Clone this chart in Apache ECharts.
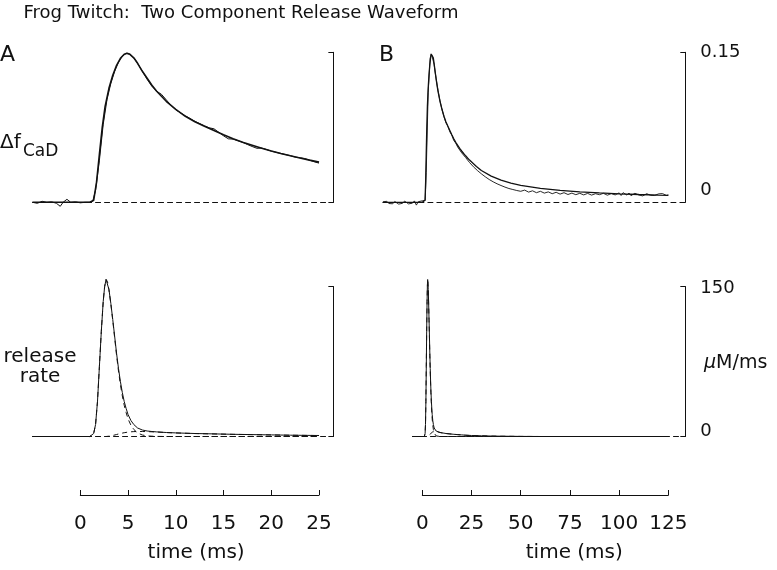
<!DOCTYPE html>
<html><head><meta charset="utf-8">
<script src="https://cdn.jsdelivr.net/npm/echarts@6/dist/echarts.min.js"></script>
<style>html,body{margin:0;padding:0;background:#fff}#c{width:777px;height:570px}</style>
</head><body><div id="c"></div>
<script>
// ---------- DATA ----------
// Fitted fluorescence change (time ms, ΔfCaD)
const fitCaD = [[-20,0],[-5,0],[0,0],[1.0,0],[1.4,0.002],[1.7,0.02],[2.0,0.048],[2.3,0.075],[2.6,0.096],[3.0,0.114],[3.4,0.127],[3.8,0.137],[4.2,0.144],[4.6,0.148],[4.9,0.149],[5.2,0.148],[5.6,0.1445],[6.0,0.139],[6.5,0.131],[7.0,0.124],[7.5,0.117],[8,0.111],[8.5,0.106],[9,0.101],[10,0.093],[11,0.086],[12,0.0805],[13,0.0760],[14,0.0718],[15,0.0675],[16,0.0635],[17,0.0600],[18,0.0570],[19,0.0540],[20,0.0513],[21,0.0488],[22,0.0465],[23,0.0443],[24,0.0422],[25,0.0402],[27.5,0.0358],[30,0.0318],[35,0.0262],[40,0.0222],[45,0.0192],[50,0.0170],[60,0.0140],[70,0.0119],[80,0.0105],[90,0.0094],[100,0.0085],[110,0.0078],[120,0.0072],[125,0.0070]];
// Measured ΔfCaD, panel A (0–25 ms view)
const measA = [[-5,0],[-4.5,-0.001],[-4,0.001],[-3.5,0],[-3,0.0005],[-2.5,-0.001],[-2.1,-0.004],[-1.8,0],[-1.4,0.003],[-1.0,0],[-0.5,0.0005],[0,-0.0005],[0.5,0],[1.0,0],[1.3,0.001],[1.6,0.012],[2.0,0.042],[2.4,0.078],[2.8,0.103],[3.2,0.119],[3.6,0.131],[4.0,0.140],[4.4,0.146],[4.8,0.149],[5.2,0.148],[5.6,0.1445],[6.0,0.139],[6.5,0.131],[7,0.123],[7.5,0.116],[8,0.111],[8.5,0.108],[9,0.1025],[9.5,0.097],[10,0.0925],[11,0.0865],[12,0.081],[13,0.0765],[13.5,0.0745],[14,0.0735],[14.5,0.0700],[15,0.0665],[15.5,0.0635],[16,0.0632],[17,0.0600],[17.5,0.0578],[18,0.0558],[18.5,0.0540],[19,0.0543],[19.5,0.0528],[20,0.0512],[21,0.0488],[22,0.0466],[22.5,0.0452],[23,0.0446],[23.5,0.0438],[24,0.0422],[24.5,0.0405],[25,0.0392]];
// Measured ΔfCaD, panel B (0–125 ms view)
const measB = [[-20,0.0005],[-19,-0.0008],[-18,0.001],[-17,-0.0012],[-16,0.0003],[-15,-0.0015],[-14,0.0008],[-13,-0.0005],[-12,-0.0018],[-11,0.0002],[-10,-0.001],[-9,0.0012],[-8,-0.0006],[-7,-0.0016],[-6,0.0004],[-5,-0.0009],[-4,0.0014],[-3,-0.0028],[-2,0.0006],[-1,-0.0012],[0,0.0015],[1,-0.0005],[1.5,0.002],[2,0.03],[3,0.11],[4,0.144],[4.5,0.1485],[5,0.146],[6,0.138],[7,0.124],[8,0.112],[9,0.1015],[10,0.093],[11,0.0860],[12,0.0795],[13,0.0762],[14,0.0705],[15,0.0672],[16,0.0618],[17,0.0592],[18,0.0552],[19,0.0538],[20,0.0495],[21,0.0478],[22,0.0448],[23,0.0432],[24,0.0398],[25,0.0392],[26,0.0355],[27,0.0352],[28,0.0318],[29,0.0312],[30,0.0285],[31,0.0282],[32,0.0255],[33,0.0258],[34,0.0228],[35,0.0236],[36,0.0205],[37,0.0212],[38,0.0185],[39,0.0192],[40,0.0168],[41,0.0175],[42,0.0152],[43,0.0162],[44,0.0138],[45,0.0148],[46,0.0128],[47,0.0138],[48,0.0118],[49,0.0130],[50,0.0110],[52,0.0122],[54,0.0102],[56,0.0115],[58,0.0096],[60,0.0110],[62,0.0092],[64,0.0104],[66,0.0086],[68,0.0100],[70,0.0082],[72,0.0096],[74,0.0078],[76,0.0092],[78,0.0076],[80,0.0090],[82,0.0074],[84,0.0089],[86,0.0072],[88,0.0086],[90,0.0076],[92,0.0090],[94,0.0071],[96,0.0087],[98,0.0074],[100,0.0094],[101,0.0068],[102,0.0096],[104,0.0072],[105,0.0093],[106,0.0066],[108,0.0090],[110,0.0073],[111,0.0088],[112,0.0064],[114,0.0086],[116,0.0070],[117,0.0088],[118,0.0068],[120,0.0084],[121,0.0070],[122,0.0087],[124,0.0069],[125,0.0074]];
// Release rate (µM/ms): total, fast component, slow component
const releaseTotal = [[-5,0],[1.0,0],[1.2,0.5],[1.4,3],[1.6,12],[1.8,35],[2.0,70],[2.2,105],[2.4,135],[2.55,150],[2.7,157],[2.85,155],[3.0,147],[3.2,133],[3.4,117],[3.6,100],[3.8,83],[4.0,68],[4.2,55],[4.4,44],[4.6,35],[4.8,28],[5.0,22],[5.3,16],[5.6,12],[6.0,8.5],[6.5,6.5],[7.0,5.5],[7.5,5.0],[8,4.6],[9,4.0],[10,3.6],[12,3.0],[14,2.6],[16,2.2],[18,1.9],[20,1.6],[22,1.3],[25,1.0],[30,0.7],[35,0.45],[40,0.3],[50,0.1],[60,0],[80,0],[100,0],[125,0]];
const releaseFast = [[-5,0],[1.0,0],[1.2,0.5],[1.4,3],[1.6,12],[1.8,35],[2.0,70],[2.2,105],[2.4,135],[2.55,150],[2.7,157],[2.85,154.9],[3.0,146.7],[3.2,132.4],[3.4,116],[3.6,98.5],[3.8,81],[4.0,65.5],[4.2,52],[4.4,40.6],[4.6,31.2],[4.8,23.9],[5.0,17.6],[5.3,11.3],[5.6,7.1],[6.0,3.5],[6.5,1.5],[7.0,0.6],[7.5,0.3],[8,0.1],[9,0],[25,0],[125,0]];
const releaseSlow = [[-5,0],[2.7,0],[2.85,0.1],[3.0,0.3],[3.2,0.6],[3.4,1.0],[3.6,1.5],[3.8,2.0],[4.0,2.5],[4.2,3.0],[4.4,3.4],[4.6,3.8],[4.8,4.1],[5.0,4.4],[5.3,4.7],[5.6,4.9],[6.0,5.0],[6.5,5.0],[7.0,4.9],[7.5,4.7],[8,4.5],[9,3.95],[10,3.55],[12,2.95],[14,2.55],[16,2.15],[18,1.85],[20,1.55],[22,1.25],[25,0.95],[30,0.65],[35,0.4],[40,0.25],[50,0.08],[60,0],[125,0]];
// Tick labels
const ticksA = [0,5,10,15,20,25];
const ticksB = [0,25,50,75,100,125];
const yTicksTop = [0,0.15];
const yTicksBottom = [0,150];
const titleText = 'Frog Twitch:  Two Component Release Waveform';

// ---------- CHART ----------
const FONT = 'DejaVu Sans', INK = '#111';
const chart = echarts.init(document.getElementById('c'));
const upTo25 = d => d.filter(p => p[0] <= 25);

const grids = [
  {left:32.55, top:52.3, width:300.8, height:150},
  {left:382.9, top:52.3, width:302.4, height:150},
  {left:32.55, top:286.5, width:300.8, height:150},
  {left:412.5, top:286.5, width:272.8, height:150},
  {left:80.3, top:494, width:238.7, height:1},
  {left:422.3, top:494, width:246, height:1}
];
function baseX(gi, min, max){
  return {gridIndex:gi, type:'value', min:min, max:max, show:true,
    axisLine:{show:true, onZero:true, lineStyle:{color:INK, width:1, type:[5,4]}},
    axisTick:{show:false}, axisLabel:{show:false}, splitLine:{show:false}};
}
function timeX(gi, ticks){
  return {gridIndex:gi, type:'value', min:ticks[0], max:ticks[ticks.length-1],
    interval:ticks[1]-ticks[0], position:'bottom',
    axisLine:{show:true, onZero:false, lineStyle:{color:INK, width:1}},
    axisTick:{show:true, inside:true, length:5, lineStyle:{color:INK}},
    axisLabel:{show:true, fontFamily:FONT, fontSize:20, color:INK, margin:19},
    splitLine:{show:false},
    name:'time (ms)', nameLocation:'middle', nameGap:48,
    nameTextStyle:{fontFamily:FONT, fontSize:20, color:INK,
      padding: gi===5 ? [0,0,0,58] : [0,7,0,0]}};
}
function rightY(gi, ticks, showLabels, rich, fmt){
  return {gridIndex:gi, type:'value', position:'right', min:ticks[0], max:ticks[1], interval:ticks[1]-ticks[0],
    axisLine:{show:true, onZero:false, lineStyle:{color:INK, width:1}},
    axisTick:{show:true, inside:true, length:5, lineStyle:{color:INK}},
    axisLabel:{show:showLabels, margin:15, fontFamily:FONT, fontSize:18, color:INK, formatter:fmt, rich:rich},
    splitLine:{show:false}};
}
const richTop = {
  hi:{fontFamily:FONT, fontSize:18, color:INK},
  lo:{fontFamily:FONT, fontSize:18, color:INK, padding:[0,0,24,0]}
};
const richBot = {
  hi:{fontFamily:FONT, fontSize:18, color:INK, padding:[4,0,0,0]},
  lo:{fontFamily:FONT, fontSize:18, color:INK, padding:[0,0,10,0]}
};
const fmtTop = v => v === yTicksTop[0] ? '{lo|' + v + '}' : '{hi|' + v + '}';
const fmtBot = v => v === yTicksBottom[0] ? '{lo|' + v + '}' : '{hi|' + v + '}';

function ln(gi, data, width, dashed){
  return {type:'line', xAxisIndex:gi, yAxisIndex:gi, data:data, showSymbol:false, symbol:'none',
    clip:false, silent:true, animation:false,
    lineStyle:{color:INK, width:width, type: dashed ? [5,4] : 'solid'}};
}

const option = {
  backgroundColor:'#fff',
  animation:false,
  grid: grids,
  xAxis: [baseX(0,-5,26.5), baseX(1,-20,133.6), baseX(2,-5,26.5), baseX(3,-5,133.5), timeX(4,ticksA), timeX(5,ticksB)],
  yAxis: [
    rightY(0, yTicksTop, false),
    rightY(1, yTicksTop, true, richTop, fmtTop),
    rightY(2, yTicksBottom, false),
    rightY(3, yTicksBottom, true, richBot, fmtBot),
    {gridIndex:4, type:'value', min:0, max:1, show:false},
    {gridIndex:5, type:'value', min:0, max:1, show:false}
  ],
  series: [
    ln(0, measA, 1),
    ln(0, upTo25(fitCaD).filter(p => p[0] >= -5), 1.6),
    ln(1, measB, 0.9),
    ln(1, fitCaD, 1.3),
    ln(2, upTo25(releaseSlow), 1, true),
    ln(2, upTo25(releaseFast), 1, true),
    ln(2, upTo25(releaseTotal), 1),
    ln(3, releaseSlow, 1, true),
    ln(3, releaseFast, 1, true),
    ln(3, releaseTotal, 1)
  ],
  graphic: [
    {type:'text', x:241, y:13, style:{text:titleText, font:'18px "DejaVu Sans"', fill:INK, textAlign:'center', textVerticalAlign:'middle', align:'center', verticalAlign:'middle'}},
    {type:'text', x:0, y:55, style:{text:'A', font:'22px "DejaVu Sans"', fill:INK, textAlign:'left', textVerticalAlign:'middle', align:'left', verticalAlign:'middle'}},
    {type:'text', x:379, y:55, style:{text:'B', font:'22px "DejaVu Sans"', fill:INK, textAlign:'left', textVerticalAlign:'middle', align:'left', verticalAlign:'middle'}},
    {type:'text', x:0, y:143, style:{text:'Δf', font:'20px "DejaVu Sans"', fill:INK, textAlign:'left', textVerticalAlign:'middle', align:'left', verticalAlign:'middle'}},
    {type:'text', x:23, y:152, style:{text:'CaD', font:'17px "DejaVu Sans"', fill:INK, textAlign:'left', textVerticalAlign:'middle', align:'left', verticalAlign:'middle'}},
    {type:'text', x:40, y:367, style:{text:'release\nrate', font:'20px "DejaVu Sans"', lineHeight:20, fill:INK, textAlign:'center', textVerticalAlign:'middle', align:'center', verticalAlign:'middle'}},
    {type:'text', x:704, y:363, style:{text:'{m|μ}{r|M/ms}', fill:INK, textAlign:'left', textVerticalAlign:'middle', align:'left', verticalAlign:'middle',
      rich:{m:{fontFamily:FONT, fontSize:19, fontStyle:'italic', fill:INK, color:INK}, r:{fontFamily:FONT, fontSize:19, fill:INK, color:INK}}}}
  ]
};
chart.setOption(option);
</script>
</body></html>
